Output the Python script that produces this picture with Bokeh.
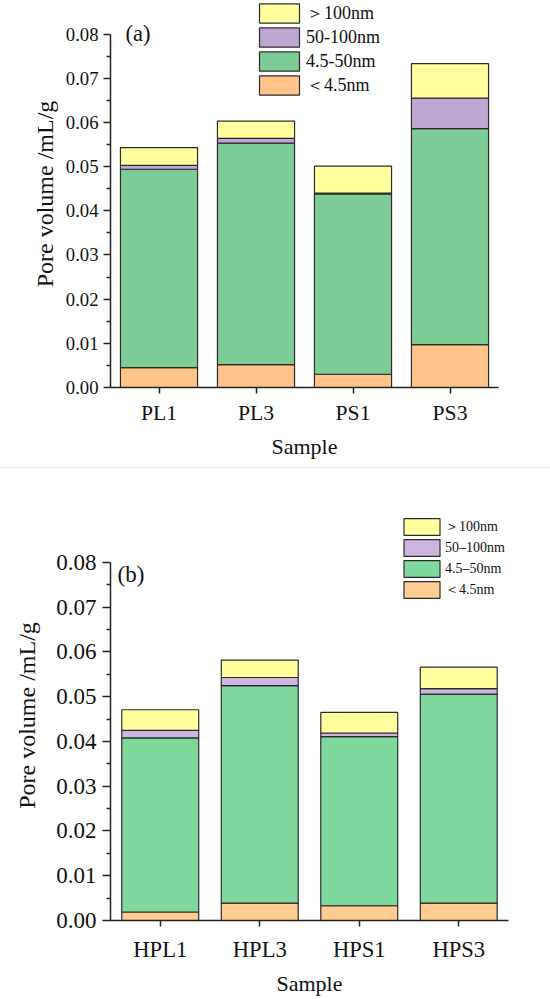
from bokeh.plotting import figure
from bokeh.models import (FactorRange, Range1d, FixedTicker, NumeralTickFormatter,
                          Legend, LegendItem, Label, Div)
from bokeh.layouts import column
from bokeh.embed import file_html
from bokeh.resources import INLINE

# ---------------- data ----------------
samples_a = ["PL1", "PL3", "PS1", "PS3"]
lt45_a = [0.0045, 0.0052, 0.0030, 0.0097]
mid_a = [0.0449, 0.0501, 0.0408, 0.0489]      # 4.5-50nm
p50_a = [0.0009, 0.0011, 0.0002, 0.0069]      # 50-100nm
gt100_a = [0.0040, 0.0039, 0.0061, 0.0078]    # >100nm

samples_b = ["HPL1", "HPL3", "HPS1", "HPS3"]
lt45_b = [0.0019, 0.0039, 0.0033, 0.0039]
mid_b = [0.0389, 0.0486, 0.0378, 0.0467]
p50_b = [0.0017, 0.0018, 0.0008, 0.0012]
gt100_b = [0.0046, 0.0039, 0.0046, 0.0048]

labels_a = ["＜4.5nm", "4.5-50nm", "50-100nm", "＞100nm"]
labels_b = ["＜4.5nm", "4.5–50nm", "50–100nm", "＞100nm"]
y_ticks = [0.0, 0.01, 0.02, 0.03, 0.04, 0.05, 0.06, 0.07, 0.08]
y_minor = [0.005, 0.015, 0.025, 0.035, 0.045, 0.055, 0.065, 0.075]

colors_a = ["#FFC48A", "#7DCC95", "#BFA7D3", "#FFFF9E"]
colors_b = ["#FFCD91", "#80D99C", "#CDB6DE", "#FFFF9E"]

FONT = "Liberation Serif"
AX = "#222222"


def make_panel(samples, series, labels, colors, tag, cfg):
    data = {"x": samples}
    keys = ["s0", "s1", "s2", "s3"]
    for k, s in zip(keys, series):
        data[k] = s
    p = figure(x_range=FactorRange(*samples, range_padding=0, factor_padding=0),
               y_range=Range1d(0, cfg["yend"]),
               frame_width=cfg["fw"], frame_height=cfg["fh"], output_backend="svg",
               toolbar_location=None,
               min_border_left=cfg["bl"], min_border_right=cfg["br"],
               min_border_top=cfg["bt"], min_border_bottom=cfg["bb"])
    rs = p.vbar_stack(keys, x="x", width=cfg["bw"], source=data, color=colors,
                      line_color="#2b2b2b", line_width=1.2)
    p.xgrid.visible = False
    p.ygrid.visible = False
    p.outline_line_color = None

    ya = p.yaxis[0]
    ya.ticker = FixedTicker(ticks=y_ticks, minor_ticks=y_minor)
    ya.formatter = NumeralTickFormatter(format="0.00")
    ya.bounds = (0, 0.08)
    ya.axis_label = "Pore volume /mL/g"
    ya.axis_label_text_font = FONT
    ya.axis_label_text_font_size = "24px"
    ya.axis_label_text_font_style = "normal"
    ya.axis_label_text_color = "#111111"
    ya.axis_label_standoff = cfg["ylstand"]
    ya.major_label_text_font = FONT
    ya.major_label_text_font_size = cfg["ytick_fs"]
    ya.major_label_text_color = "#111111"
    ya.major_label_standoff = cfg["ytstand"]
    ya.major_tick_out = cfg["tick"]
    ya.major_tick_in = 0
    ya.minor_tick_out = 4
    ya.minor_tick_in = 0
    ya.axis_line_color = AX
    ya.axis_line_width = 1.5
    ya.major_tick_line_color = AX
    ya.major_tick_line_width = 1.5
    ya.minor_tick_line_color = AX
    ya.minor_tick_line_width = 1.5

    xa = p.xaxis[0]
    xa.axis_label = "Sample"
    xa.axis_label_text_font = FONT
    xa.axis_label_text_font_size = "22px"
    xa.axis_label_text_font_style = "normal"
    xa.axis_label_text_color = "#111111"
    xa.axis_label_standoff = cfg["xlstand"]
    xa.major_label_text_font = FONT
    xa.major_label_text_font_size = cfg["xtick_fs"]
    xa.major_label_text_color = "#111111"
    xa.major_label_standoff = cfg["xtstand"]
    xa.major_tick_out = 6
    xa.major_tick_in = 0
    xa.axis_line_color = AX
    xa.axis_line_width = 1.5
    xa.major_tick_line_color = AX
    xa.major_tick_line_width = 1.5

    items = [LegendItem(label=labels[i], renderers=[rs[i]]) for i in [3, 2, 1, 0]]
    leg = Legend(items=items, location=cfg["legloc"], orientation="vertical",
                 glyph_width=cfg["gw"], glyph_height=cfg["gh"], label_height=cfg["gh"],
                 label_width=cfg["lw"],
                 spacing=cfg["sp"], padding=0, margin=0, label_standoff=cfg["lst"],
                 border_line_color=None, background_fill_alpha=0,
                 label_text_font=FONT, label_text_font_size=cfg["leg_fs"],
                 label_text_color="#111111")
    p.add_layout(leg, "center")

    p.add_layout(Label(x=cfg["tagx"], y=cfg["tagy"], x_units="screen", y_units="screen",
                       text=tag, text_font=FONT, text_font_size=cfg["tag_fs"],
                       text_baseline="middle", text_align="left", text_color="#111111"))
    return p


cfg_a = dict(yend=0.0876, fw=388, fh=387, bl=110, br=52, bt=0, bb=80, bw=0.795,
             ylstand=5, ytick_fs="18.7px", ytstand=5, tick=7, xlstand=6,
             xtick_fs="21.7px", xtstand=7, legloc=(144, 290), gw=50, gh=24, sp=-2,
             lw=80, lst=2, leg_fs="18px", tagx=15, tagy=354, tag_fs="22.5px")
cfg_b = dict(yend=0.09162, fw=398, fh=410, bl=108, br=44, bt=42, bb=79, bw=0.773,
             ylstand=13, ytick_fs="23px", ytstand=6, tick=8, xlstand=6,
             xtick_fs="22.6px", xtstand=10, legloc=(289, 320), gw=45, gh=21, sp=-1,
             lw=64, lst=1, leg_fs="14px", tagx=7, tagy=346, tag_fs="23px")

pa = make_panel(samples_a, [lt45_a, mid_a, p50_a, gt100_a], labels_a, colors_a, "(a)", cfg_a)
pb = make_panel(samples_b, [lt45_b, mid_b, p50_b, gt100_b], labels_b, colors_b, "(b)", cfg_b)

sep = Div(text="", width=550, height=1, margin=0,
          styles={"background-color": "#e6e6e6"})

layout = column(pa, sep, pb, spacing=0)
open("out.html", "w").write(file_html(layout, INLINE))
